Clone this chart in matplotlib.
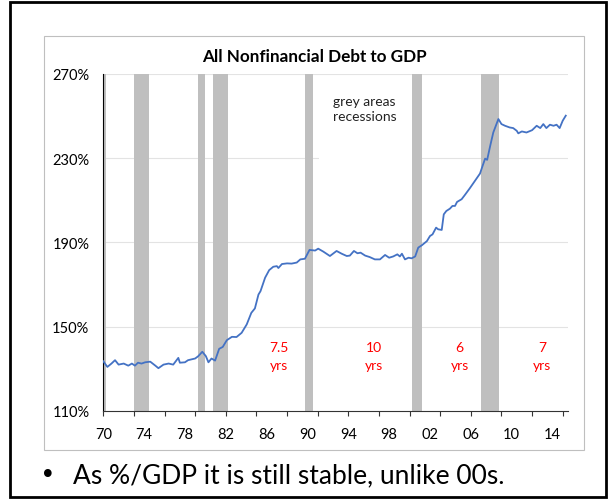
import matplotlib
matplotlib.use("Agg")
import matplotlib.pyplot as plt
from matplotlib.patches import Rectangle
from matplotlib.ticker import FixedLocator

plt.rcParams["font.family"] = ["Lato", "DejaVu Sans"]

# debt-to-GDP ratio (%), decimal years
years = [1970.0, 1970.4, 1970.8, 1971.15, 1971.5, 1972.0, 1972.45, 1972.8, 1973.1, 1973.4,
         1973.75, 1974.1, 1974.6, 1975.1, 1975.4, 1975.9, 1976.4, 1976.85, 1977.35, 1977.5,
         1978.0, 1978.3, 1979.0, 1979.3, 1979.7, 1980.05, 1980.3, 1980.6, 1980.95, 1981.35,
         1981.7, 1982.1, 1982.6, 1983.05, 1983.55, 1984.05, 1984.5, 1984.85, 1985.2, 1985.4,
         1985.85, 1986.25, 1986.65, 1987.0, 1987.15, 1987.5, 1988.0, 1988.45, 1988.95, 1989.3,
         1989.75, 1990.2, 1990.75, 1991.05, 1991.55, 1992.2, 1992.85, 1993.35, 1993.85, 1994.15,
         1994.55, 1994.9, 1995.2, 1995.65, 1996.1, 1996.6, 1997.1, 1997.6, 1998.0, 1998.4,
         1998.8, 1999.05, 1999.25, 1999.55, 1999.9, 2000.2, 2000.55, 2000.85, 2001.2, 2001.7,
         2002.0, 2002.25, 2002.6, 2002.8, 2003.15, 2003.35, 2003.6, 2003.95, 2004.2, 2004.45,
         2004.65, 2005.1, 2005.4, 2005.9, 2006.4, 2006.9, 2007.15, 2007.4, 2007.6, 2007.9,
         2008.2, 2008.45, 2008.7, 2009.0, 2009.35, 2009.8, 2010.15, 2010.5, 2010.65, 2011.0,
         2011.45, 2012.0, 2012.45, 2012.8, 2013.1, 2013.4, 2013.75, 2014.1, 2014.4, 2014.7,
         2015.0, 2015.3]
debt_gdp = [133.5, 130.8, 132.4, 134.0, 131.9, 132.4, 131.4, 132.4, 131.4, 132.8,
            132.4, 133.0, 133.3, 131.4, 130.2, 131.9, 132.4, 131.9, 135.1, 132.8,
            133.0, 134.0, 134.8, 135.9, 138.0, 135.9, 133.0, 134.8, 133.8, 139.4,
            140.3, 143.5, 145.1, 145.0, 147.0, 151.0, 156.5, 158.6, 165.2, 166.8,
            173.2, 176.8, 178.4, 178.7, 177.8, 179.7, 180.0, 179.9, 180.4, 181.9,
            182.2, 186.4, 186.1, 187.0, 185.6, 183.5, 185.9, 184.6, 183.5, 183.7,
            185.9, 184.8, 185.1, 183.7, 183.0, 181.9, 181.9, 184.0, 182.7, 183.3,
            184.3, 183.3, 184.6, 181.9, 182.7, 182.4, 183.3, 187.5, 188.6, 190.6,
            193.0, 193.8, 197.0, 196.2, 195.9, 203.3, 204.9, 206.0, 207.3, 207.3,
            209.2, 210.5, 212.4, 215.7, 219.2, 222.7, 226.3, 229.8, 229.2, 235.9,
            242.2, 245.4, 248.6, 246.2, 245.4, 244.6, 244.3, 243.0, 241.8, 242.7,
            242.2, 243.3, 245.4, 244.3, 246.2, 244.3, 245.9, 245.4, 245.9, 244.3,
            247.8, 250.2]

rec_start = [1969.5, 1973.04, 1979.27, 1980.77, 1989.75, 2000.27, 2007.0]
rec_end = [1970.23, 1974.5, 1980.0, 1982.24, 1990.5, 2001.22, 2008.75]

label_years = list(range(1970, 2015, 4))
tick_years = list(range(1970, 2016, 3))
y_ticks = [110, 150, 190, 230, 270]

spans = [("7.5", 1987.2), ("10", 1996.5), ("6", 2004.9), ("7", 2013.0)]

fig = plt.figure(figsize=(6.09, 5.02), dpi=100)

# slide frame and chart border
fig.add_artist(Rectangle((0.0164, 0.008), 0.9787, 0.986, transform=fig.transFigure,
                         fill=False, edgecolor="black", linewidth=2))
fig.add_artist(Rectangle((0.0722, 0.1016), 0.8867, 0.8247, transform=fig.transFigure,
                         fill=False, edgecolor="#bfbfbf", linewidth=0.8))

ax = fig.add_axes([0.1696, 0.1799, 0.7626, 0.6707])
ax.set_xlim(1970, 2015.49)
ax.set_ylim(110, 270)

for y in y_ticks[1:]:
    ax.axhline(y, color="#e3e3e3", linewidth=0.8, zorder=0)

for s, e in zip(rec_start, rec_end):
    ax.axvspan(s, e, color="#bfbfbf", linewidth=0, zorder=1)

# white text box behind the legend note
ax.add_patch(Rectangle((1991.1, 221), 9.1, 45, facecolor="white", edgecolor="none", zorder=1.5))
ax.text(1995.6, 253.5, "grey areas\nrecessions", ha="center", va="center", fontsize=10,
        linespacing=1.25, color="#222222", zorder=3)

ax.plot(years, debt_gdp, color="#4472c4", linewidth=1.3, zorder=4)

for txt, x in spans:
    ax.text(x, 140.5, txt, ha="center", va="center", color="#ff0000", fontsize=10, zorder=3)
    ax.text(x, 131.5, "yrs", ha="center", va="center", color="#ff0000", fontsize=10, zorder=3)

for side in ("top", "right"):
    ax.spines[side].set_visible(False)
ax.spines["left"].set_color("black")
ax.spines["bottom"].set_color("#333333")

ax.xaxis.remove_overlapping_locs = False
ax.set_xticks(label_years)
ax.set_xticklabels([f"{y % 100:02d}" for y in label_years])
ax.xaxis.set_minor_locator(FixedLocator(tick_years))
ax.tick_params(axis="x", which="major", length=0, pad=12, labelsize=10.5)
ax.tick_params(axis="x", which="minor", length=3.5, width=0.8, direction="out", color="#333333")

ax.set_yticks(y_ticks)
ax.set_yticklabels([f"{y}%" for y in y_ticks])
ax.tick_params(axis="y", length=0, pad=10, labelsize=10.5)

fig.text(0.516, 0.886, "All Nonfinancial Debt to GDP", ha="center", va="center",
         fontsize=12.3, fontweight="bold")

fig.text(0.078, 0.052, "\u2022", ha="center", va="center", fontsize=19, family="DejaVu Sans")
fig.text(0.12, 0.052, "As %/GDP it is still stable, unlike 00s.", ha="left", va="center",
         fontsize=19)

fig.savefig("out.png", dpi=100)
